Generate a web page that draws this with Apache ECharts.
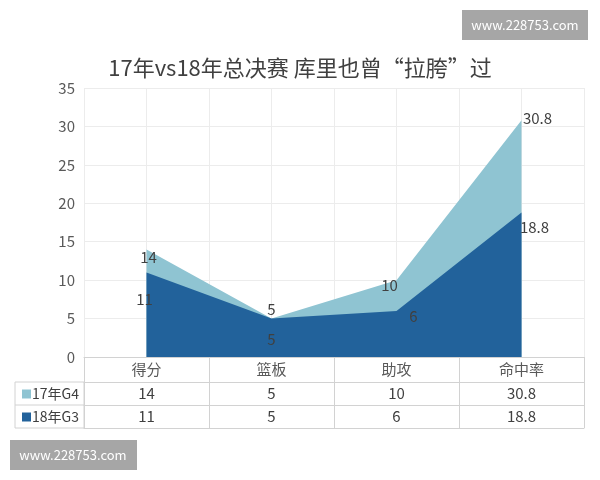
<!DOCTYPE html>
<html>
<head>
<meta charset="utf-8">
<script src="https://cdn.jsdelivr.net/npm/echarts@6/dist/echarts.min.js"></script>
<style>
  html, body { margin: 0; padding: 0; background: #fff; }
  #main { width: 600px; height: 480px; }
</style>
</head>
<body>
<div id="main"></div>
<script>
// 数据
var categories = ['得分', '篮板', '助攻', '命中率'];
var seriesNames = ['17年G4', '18年G3'];
var values17 = [14, 5, 10, 30.8];
var values18 = [11, 5, 6, 18.8];
var yTicks = { min: 0, max: 35, interval: 5 };

// 标签偏移（仅样式）
var offsets17 = [[2, 8], [0, -9], [-7, 5], [16, -2]];
var offsets18 = [[-2, 27], [0, 21], [17, 5], [13, 15]];

var lightColor = '#8fc4d2';
var darkColor = '#22629b';
var tableLine = '#d2d2d2';
var gridLine = '#ececec';
var font = '"Noto Sans CJK SC", "Noto Sans", sans-serif';

function withLabels(vals, offs) {
    return vals.map(function (v, i) {
        return { value: v, label: { offset: offs[i] } };
    });
}

// 表格的行：用类目轴画
function rowAxis(data, offset, tickLen, margin, showLabel) {
    return {
        type: 'category',
        position: 'bottom',
        gridIndex: 0,
        offset: offset,
        data: data,
        boundaryGap: true,
        axisLine: { show: true, lineStyle: { color: tableLine, width: 1 } },
        axisTick: { show: tickLen > 0, interval: 0, length: tickLen, inside: false,
                    lineStyle: { color: tableLine } },
        axisLabel: { show: showLabel, interval: 0, margin: margin, fontSize: 15,
                     color: '#404040', fontFamily: font },
        splitLine: { show: false }
    };
}

var dom = document.getElementById('main');
var myChart = echarts.init(dom);
var option = {
    backgroundColor: '#fff',
    animation: false,
    title: {
        text: '17年vs18年总决赛 库里也曾“拉胯”过',
        left: 'center',
        top: 52,
        textStyle: { fontSize: 22, fontWeight: 'normal', color: '#404040', fontFamily: font }
    },
    legend: {
        orient: 'vertical',
        left: 17,
        top: 382,
        itemGap: 9,
        itemWidth: 9,
        itemHeight: 9,
        icon: 'rect',
        data: seriesNames,
        textStyle: { fontSize: 14, color: '#404040', fontFamily: font, padding: [0, 0, 0, -4] }
    },
    grid: { left: 84, right: 16, top: 88, bottom: 123, containLabel: false },
    xAxis: [
        {
            type: 'category',
            position: 'bottom',
            data: categories,
            boundaryGap: true,
            axisLine: { show: true, lineStyle: { color: tableLine } },
            axisTick: { show: true, interval: 0, length: 25, inside: false, lineStyle: { color: tableLine } },
            axisLabel: { interval: 0, margin: 5, fontSize: 15, color: '#595959', fontFamily: font },
            splitLine: { show: false }
        },
        rowAxis(values17.map(String), 25, 23, 4, true),
        rowAxis(values18.map(String), 48, 23, 4, true),
        rowAxis(['', '', '', ''], 71, 0, 4, false),
        {
            // 网格竖线（类目边界与中点）
            type: 'value',
            position: 'top',
            min: 0,
            max: 8,
            interval: 1,
            axisLine: { show: false },
            axisTick: { show: false },
            axisLabel: { show: false },
            splitLine: { show: true, lineStyle: { color: gridLine } }
        }
    ],
    yAxis: {
        type: 'value',
        min: yTicks.min,
        max: yTicks.max,
        interval: yTicks.interval,
        axisLine: { show: false },
        axisTick: { show: false },
        axisLabel: { margin: 9, fontSize: 15, color: '#595959', fontFamily: font },
        splitLine: { show: true, lineStyle: { color: gridLine } }
    },
    series: [
        {
            name: seriesNames[0],
            type: 'line',
            xAxisIndex: 0,
            data: withLabels(values17, offsets17),
            symbol: 'circle',
            symbolSize: 0.1,
            showSymbol: true,
            lineStyle: { width: 0 },
            itemStyle: { color: lightColor },
            areaStyle: { color: lightColor, opacity: 1 },
            label: { show: true, position: 'inside', fontSize: 15, color: '#404040', fontFamily: font },
            z: 2
        },
        {
            name: seriesNames[1],
            type: 'line',
            xAxisIndex: 0,
            data: withLabels(values18, offsets18),
            symbol: 'circle',
            symbolSize: 0.1,
            showSymbol: true,
            lineStyle: { width: 0 },
            itemStyle: { color: darkColor },
            areaStyle: { color: darkColor, opacity: 1 },
            label: { show: true, position: 'inside', fontSize: 15, color: '#404040', fontFamily: font },
            z: 3
        }
    ],
    graphic: [
        // 图例列的表格边框
        { type: 'rect', shape: { x: 15, y: 382, width: 69, height: 46 },
          style: { fill: 'none', stroke: tableLine, lineWidth: 1 }, silent: true },
        { type: 'line', shape: { x1: 15, y1: 405, x2: 84, y2: 405 },
          style: { stroke: tableLine, lineWidth: 1 }, silent: true },
        // 水印
        { type: 'rect', shape: { x: 462, y: 10, width: 126, height: 30 },
          style: { fill: '#a6a6a6' }, silent: true, z: 10 },
        { type: 'text', x: 525, y: 25, z: 11,
          style: { text: 'www.228753.com', fill: '#fff', fontSize: 13, fontFamily: font,
                   align: 'center', verticalAlign: 'middle' } },
        { type: 'rect', shape: { x: 10, y: 440, width: 127, height: 30 },
          style: { fill: '#a6a6a6' }, silent: true, z: 10 },
        { type: 'text', x: 73, y: 455, z: 11,
          style: { text: 'www.228753.com', fill: '#fff', fontSize: 13, fontFamily: font,
                   align: 'center', verticalAlign: 'middle' } }
    ]
};
myChart.setOption(option);
</script>
</body>
</html>
